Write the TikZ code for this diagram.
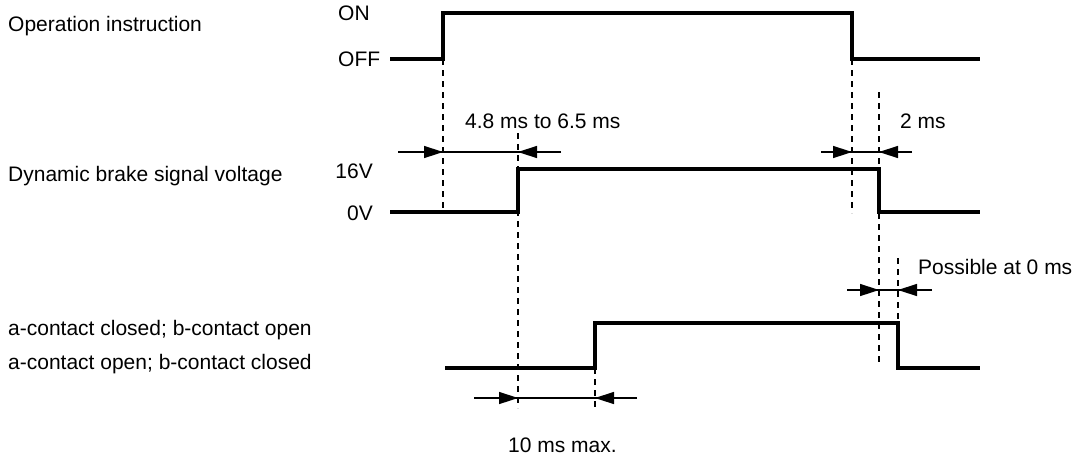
\documentclass[tikz,border=0pt]{standalone}
\usepackage{fontspec}
\setmainfont{Liberation Sans}
\usetikzlibrary{arrows.meta}
\tikzstyle{signal} = [line width=3.2pt, line join=miter]
\tikzstyle{guide} = [line width=1.5pt, dash pattern=on 6pt off 5pt]
\tikzstyle{dimline} = [line width=1.5pt]
\tikzstyle{dim} = [line width=1.5pt, -{Triangle[length=19pt,width=12pt]}]
\tikzstyle{txt} = [inner sep=0pt, font=\fontsize{21}{24}\selectfont]

\begin{document}
\begin{tikzpicture}[x=1pt,y=-1pt]
\useasboundingbox (0,0) rectangle (1078,461);

\node[txt, anchor=base west] (opname) at (8,31) {Operation instruction};
\node[txt, anchor=base west] (dbname) at (8,181) {Dynamic brake signal voltage};
\node[txt, anchor=base west] (aname) at (8,335) {a-contact closed; b-contact open};
\node[txt, anchor=base west] (bname) at (8,369) {a-contact open; b-contact closed};

\node[txt, anchor=base west] (on) at (338,20) {ON};
\node[txt, anchor=base west] (off) at (338,66) {OFF};
\node[txt, anchor=base east] (hi) at (373,178) {16V};
\node[txt, anchor=base east] (lo) at (373,220) {0V};

% waveforms
\draw[signal] (390,59) -- (443,59) -- (443,13) -- (852,13) -- (852,59) -- (980,59);
\draw[signal] (390,212) -- (518,212) -- (518,169) -- (879,169) -- (879,212) -- (980,212);
\draw[signal] (445,368) -- (595,368) -- (595,323) -- (898,323) -- (898,368) -- (980,368);

\draw[guide] (443,59) -- (443,213);
\draw[guide] (518,133) -- (518,408);
\draw[guide] (852,59) -- (852,213);
\draw[guide] (879,92) -- (879,365);
\draw[guide] (898,258) -- (898,323);
\draw[guide] (595,368) -- (595,408);

% timings
\draw[dimline] (398,152) -- (561,152);
\draw[dim] (398,152) -- (443,152);
\draw[dim] (561,152) -- (518,152);
\node[txt, anchor=base west] (t1) at (465,128) {4.8 ms to 6.5 ms};

\draw[dimline] (821,152) -- (912,152);
\draw[dim] (821,152) -- (852,152);
\draw[dim] (912,152) -- (879,152);
\node[txt, anchor=base west] (t2) at (900,128) {2 ms};

\draw[dimline] (847,290) -- (932,290);
\draw[dim] (847,290) -- (879,290);
\draw[dim] (932,290) -- (898,290);
\node[txt, anchor=base west] (t3) at (918,274) {Possible at 0 ms};

\draw[dimline] (474,398) -- (637,398);
\draw[dim] (474,398) -- (518,398);
\draw[dim] (637,398) -- (595,398);
\node[txt, anchor=base west] (t4) at (508,452) {10 ms max.};
\end{tikzpicture}
\end{document}
